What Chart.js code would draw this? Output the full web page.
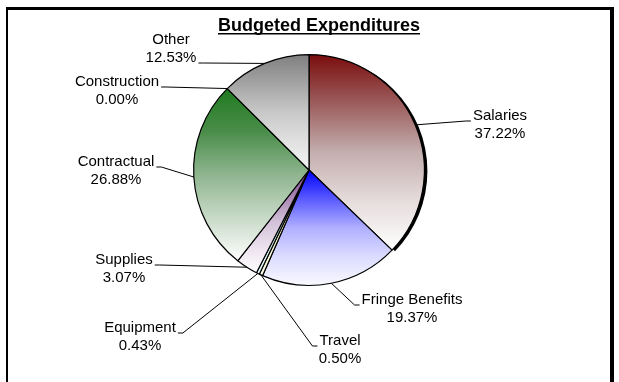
<!DOCTYPE html>
<html>
<head>
<meta charset="utf-8">
<title>Budgeted Expenditures</title>
<script src="https://cdn.jsdelivr.net/npm/chart.js@4.4.1/dist/chart.umd.min.js"></script>
<style>
    body { margin: 0; background: #fff; }
    #wrap { position: relative; width: 619px; height: 382px; overflow: hidden; }
    #frame {
        position: absolute; left: 6px; top: 7px; width: 602px; height: 400px;
        border-top: 3px solid #000; border-left: 2px solid #000; border-right: 4px solid #000;
        pointer-events: none;
    }
</style>
</head>
<body>
<div id="wrap">
    <canvas id="budgetChart" width="619" height="382"></canvas>
    <div id="frame"></div>
</div>
<script>
// chart data
const categories = ["Salaries", "Fringe Benefits", "Travel", "Equipment", "Supplies", "Contractual", "Construction", "Other"];
const percents = [37.22, 19.37, 0.50, 0.43, 3.07, 26.88, 0.00, 12.53];
const chartTitle = "Budgeted Expenditures";

// gradient stops for each slice (top of slice -> bottom of slice)
const sliceGradients = [
    ["#7a0c0c", "#9c5c5c", "#c4aeae", "#e6dcdc", "#ffffff"],
    ["#0000ff", "#5a5aff", "#b0b0ff", "#dcdcff", "#fafaff"],
    ["#f4f4a8", "#f6f6b8", "#f8f8c8", "#fafad8", "#fcfce8"],
    ["#a8f0f0", "#b4f2f2", "#c4f4f4", "#d4f6f6", "#e4f8f8"],
    ["#7f3f8f", "#a783b0", "#d2c0d8", "#ece2ee", "#ffffff"],
    ["#1f7a1f", "#4a8d4a", "#8fb58f", "#c8dac8", "#ffffff"],
    ["#ffffff", "#ffffff", "#ffffff", "#ffffff", "#ffffff"],
    ["#7f7f7f", "#a3a3a3", "#c8c8c8", "#e0e0e0", "#f4f4f4"]
];

// where each label sits: centre x, first line centre y, which side the leader leaves, which line it leaves from
const labelLayout = [
    { cx: 500, cy: 116, side: "left", line: 0 },
    { cx: 412, cy: 300, side: "left", line: 0 },
    { cx: 340, cy: 341, side: "left", line: 0 },
    { cx: 140, cy: 328, side: "right", line: 0 },
    { cx: 124, cy: 260, side: "right", line: 0 },
    { cx: 116, cy: 162, side: "right", line: 0 },
    { cx: 117, cy: 82, side: "right", line: 0 },
    { cx: 171, cy: 40, side: "right", line: 1 }
];

const labelFont = '15px "Liberation Sans", Arial, sans-serif';
const lineGap = 18;

// vertical gradient that runs over the slice's own height
function sliceFill(context) {
    const chart = context.chart;
    const i = context.dataIndex;
    const area = chart.chartArea;
    const stops = sliceGradients[i];
    if (!area || percents[i] === 0) return stops[0];

    const total = percents.reduce((a, b) => a + b, 0);
    let before = 0;
    for (let k = 0; k < i; k++) before += percents[k];
    const s = before / total * 360;
    const e = (before + percents[i]) / total * 360;

    const cx = (area.left + area.right) / 2;
    const cy = (area.top + area.bottom) / 2;
    const r = Math.min(area.width, area.height) / 2;
    const yAt = deg => cy - r * Math.cos(deg * Math.PI / 180);

    let ys = [cy, yAt(s), yAt(e)];
    if (s <= 0 || e >= 360) ys.push(cy - r);
    if (s <= 180 && e >= 180) ys.push(cy + r);
    const y0 = Math.min(...ys), y1 = Math.max(...ys);
    if (y1 - y0 < 1) return stops[0];

    const g = chart.ctx.createLinearGradient(0, y0, 0, y1);
    stops.forEach((c, n) => g.addColorStop(n / (stops.length - 1), c));
    return g;
}

// dark edge on the right side of the Salaries slice
const salaryShadow = {
    id: "salaryShadow",
    beforeDatasetsDraw(chart) {
        const arc = chart.getDatasetMeta(0).data[0];
        if (!arc) return;
        const ctx = chart.ctx;
        ctx.save();
        ctx.fillStyle = "#000";
        ctx.beginPath();
        ctx.moveTo(arc.x + 3, arc.y + 1);
        ctx.arc(arc.x + 3, arc.y + 1, arc.outerRadius, arc.startAngle, arc.endAngle);
        ctx.closePath();
        ctx.fill();
        ctx.restore();
    }
};

// title plus the outside labels with leader lines
const pieLabels = {
    id: "pieLabels",
    afterDatasetsDraw(chart) {
        const ctx = chart.ctx;
        const meta = chart.getDatasetMeta(0);
        ctx.save();

        ctx.fillStyle = "#000";
        ctx.textAlign = "center";
        ctx.textBaseline = "middle";
        ctx.font = 'bold 18px "Liberation Sans", Arial, sans-serif';
        ctx.fillText(chartTitle, 319, 26);
        const tw = ctx.measureText(chartTitle).width;
        ctx.fillRect(319 - tw / 2, 33, tw, 1.5);

        ctx.font = labelFont;
        ctx.strokeStyle = "#000";
        ctx.lineWidth = 1;

        meta.data.forEach((arc, i) => {
            const lay = labelLayout[i];
            const lines = [categories[i], percents[i].toFixed(2) + "%"];
            lines.forEach((t, n) => ctx.fillText(t, lay.cx, lay.cy + n * lineGap));

            const mid = (arc.startAngle + arc.endAngle) / 2;
            const ax = arc.x + Math.cos(mid) * arc.outerRadius;
            const ay = arc.y + Math.sin(mid) * arc.outerRadius;

            const w = ctx.measureText(lines[lay.line]).width;
            const py = lay.cy + lay.line * lineGap + 5;
            let px, ex;
            if (lay.side === "right") {
                px = lay.cx + w / 2 + 2;
                ex = px + 5;
            } else {
                px = lay.cx - w / 2 - 2;
                ex = px - 5;
            }
            ctx.beginPath();
            ctx.moveTo(px, py);
            ctx.lineTo(ex, py);
            ctx.lineTo(ax, ay);
            ctx.stroke();
        });
        ctx.restore();
    }
};

const ctx = document.getElementById("budgetChart").getContext("2d");
new Chart(ctx, {
    type: "pie",
    data: {
        labels: categories,
        datasets: [{
            data: percents,
            backgroundColor: sliceFill,
            borderColor: "#000",
            borderWidth: 1.2
        }]
    },
    options: {
        responsive: false,
        animation: false,
        layout: { padding: { left: 193, right: 194, top: 54, bottom: 96 } },
        plugins: {
            legend: { display: false },
            tooltip: { enabled: false },
            title: { display: false }
        }
    },
    plugins: [salaryShadow, pieLabels]
});
</script>
</body>
</html>
